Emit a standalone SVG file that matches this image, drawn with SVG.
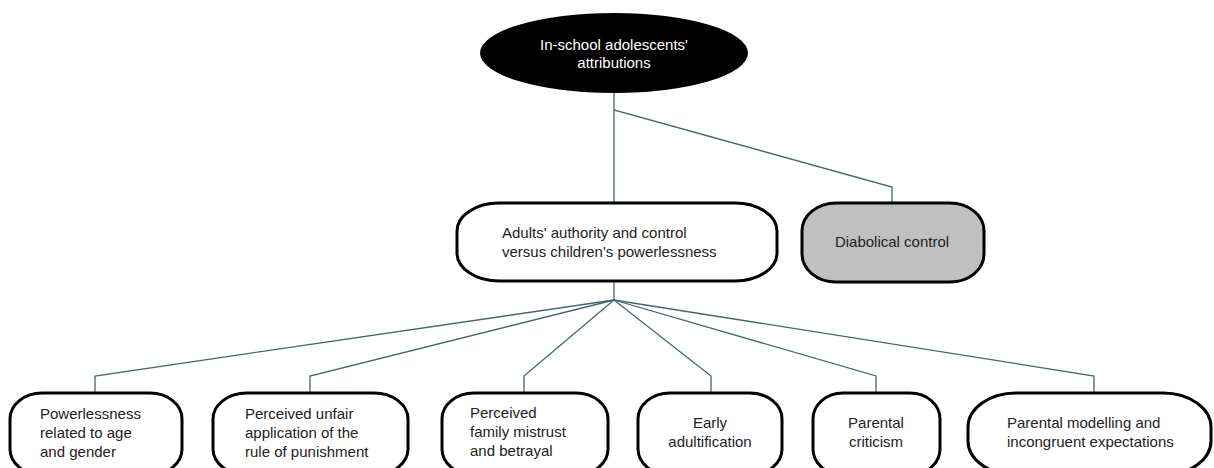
<svg xmlns="http://www.w3.org/2000/svg" width="1214" height="468" viewBox="0 0 1214 468">
<style>
.box{fill:#fff;stroke:#000;stroke-width:3}
.grey{fill:#c0c0c0}
.t{font-family:"Liberation Sans",Arial,sans-serif;font-size:15px;fill:#222}
.w{fill:#fff}
.c{stroke:#3f6a68;stroke-width:1.3;fill:none}
</style>
<rect width="1214" height="468" fill="#fff"/>
<g id="connectors">
<polyline class="c" points="614,92 614,110 892,187 892,202"/>
<line class="c" x1="614" y1="110" x2="614" y2="202"/>
<line class="c" x1="614" y1="281" x2="614" y2="300"/>
<polyline class="c" points="614,300 95,376 95,393"/>
<polyline class="c" points="614,300 310,376 310,393"/>
<polyline class="c" points="614,300 524,376 524,393"/>
<polyline class="c" points="614,300 711,376 711,393"/>
<polyline class="c" points="614,300 876,376 876,393"/>
<polyline class="c" points="614,300 1094,376 1094,393"/>
</g>
<g id="root">
<ellipse cx="614" cy="53" rx="134" ry="40" fill="#000"/>
<text class="t w" x="614" y="50" text-anchor="middle">In-school adolescents'</text>
<text class="t w" x="614" y="68" text-anchor="middle">attributions</text>
</g>
<g id="adults">
<rect class="box" x="457" y="203" width="320" height="78" rx="42" ry="28"/>
<text class="t" x="502" y="238">Adults' authority and control</text>
<text class="t" x="502" y="257">versus children's powerlessness</text>
</g>
<g id="diabolical">
<rect class="box grey" x="802" y="203" width="182" height="79" rx="34" ry="28"/>
<text class="t" x="892" y="247" text-anchor="middle">Diabolical control</text>
</g>
<g id="n1">
<rect class="box" x="10" y="393" width="172" height="82" rx="32" ry="26"/>
<text class="t" x="40" y="419">Powerlessness</text>
<text class="t" x="40" y="438">related to age</text>
<text class="t" x="40" y="457">and gender</text>
</g>
<g id="n2">
<rect class="box" x="213" y="393" width="195" height="82" rx="34" ry="26"/>
<text class="t" x="245" y="419">Perceived unfair</text>
<text class="t" x="245" y="438">application of the</text>
<text class="t" x="245" y="457">rule of punishment</text>
</g>
<g id="n3">
<rect class="box" x="442" y="393" width="166" height="82" rx="32" ry="26"/>
<text class="t" x="470" y="418">Perceived</text>
<text class="t" x="470" y="437">family mistrust</text>
<text class="t" x="470" y="456">and betrayal</text>
</g>
<g id="n4">
<rect class="box" x="638" y="393" width="144" height="82" rx="32" ry="26"/>
<text class="t" x="710" y="428" text-anchor="middle">Early</text>
<text class="t" x="710" y="447" text-anchor="middle">adultification</text>
</g>
<g id="n5">
<rect class="box" x="813" y="393" width="127" height="82" rx="30" ry="26"/>
<text class="t" x="876" y="428" text-anchor="middle">Parental</text>
<text class="t" x="876" y="447" text-anchor="middle">criticism</text>
</g>
<g id="n6">
<rect class="box" x="968" y="393" width="243" height="82" rx="48" ry="34"/>
<text class="t" x="1007" y="428">Parental modelling and</text>
<text class="t" x="1007" y="447">incongruent expectations</text>
</g>
</svg>
